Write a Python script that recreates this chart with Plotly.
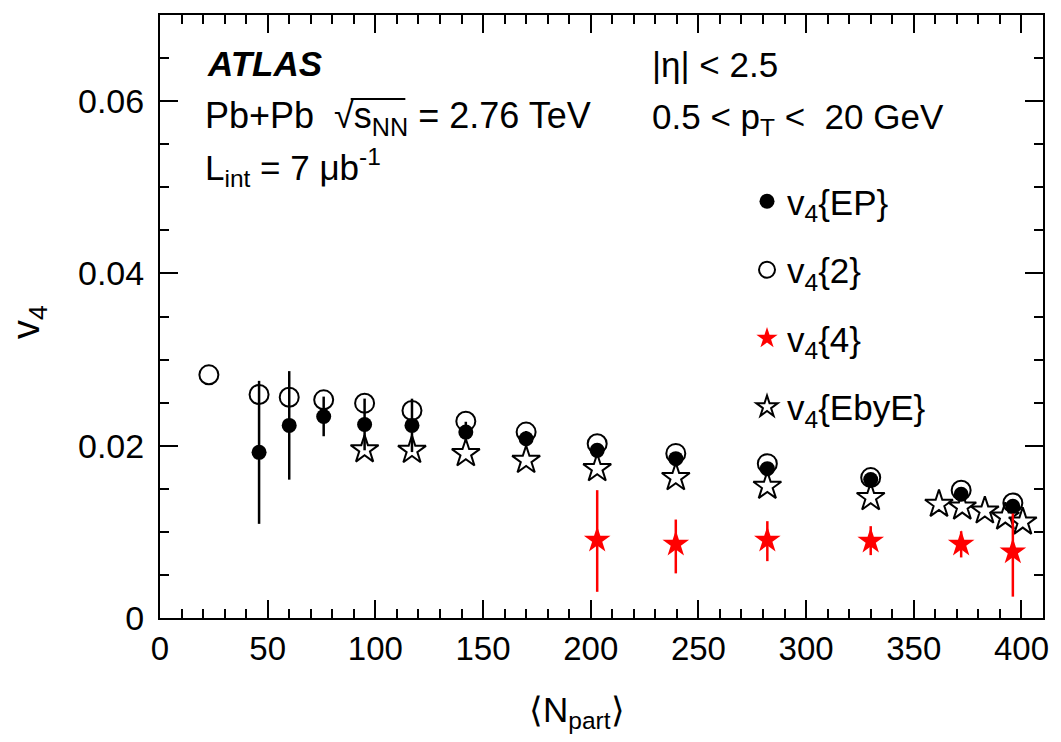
import plotly.graph_objects as go

# ---------------- data ----------------
npart_ep = [46, 60, 76, 95, 117, 142, 170, 203, 239.5, 282, 330, 372, 396]
v4_ep = [0.01923, 0.02236, 0.0234, 0.02247, 0.02236, 0.02158, 0.02081, 0.01946, 0.0185, 0.01734, 0.01607, 0.01436, 0.01297]
v4_ep_err = [0.0083, 0.0063, 0.0023, 0.0030, 0.0031, 0.0012, 0.0009, 0.0006, 0.0005, 0.0005, 0.0005, 0.0005, 0.0005]

npart_2 = [22.7, 46, 60, 76, 95, 117, 142, 170, 203, 239.5, 282, 330, 372, 396]
v4_2 = [0.02823, 0.02595, 0.02563, 0.02533, 0.02494, 0.02409, 0.02285, 0.02158, 0.02024, 0.01911, 0.01792, 0.0163, 0.01483, 0.01336]

npart_4 = [203, 239.5, 282, 330, 372, 396]
v4_4 = [0.00904, 0.00857, 0.00904, 0.00892, 0.00857, 0.00768]
v4_4_err_up = [0.0058, 0.00286, 0.0022, 0.00174, 0.0015, 0.00445]
v4_4_err_dn = [0.0060, 0.00339, 0.00244, 0.00162, 0.00154, 0.0052]

npart_ebye = [95, 117, 142, 170, 203, 239.5, 282, 330, 361.7, 372.5, 383, 392.5, 400.6]
v4_ebye = [0.01954, 0.01946, 0.01908, 0.0183, 0.01734, 0.0163, 0.01529, 0.01398, 0.0132, 0.01289, 0.01243, 0.01173, 0.01115]

x_ticks = [0, 50, 100, 150, 200, 250, 300, 350, 400]
y_ticks = [0, 0.02, 0.04, 0.06]
y_ticktext = ["0", "0.02", "0.04", "0.06"]

FONT = "Liberation Sans, Arial, Helvetica, sans-serif"

fig = go.Figure()

fig.add_trace(go.Scatter(
    x=npart_ebye, y=v4_ebye, mode="markers", name="v<sub>4</sub>{EbyE}",
    legendgroup="d", legendrank=4,
    marker=dict(symbol="star-open", size=21, color="black", line=dict(width=2, color="black")),
))
fig.add_trace(go.Scatter(
    x=npart_2, y=v4_2, mode="markers", name="v<sub>4</sub>{2}",
    legendgroup="b", legendrank=2,
    marker=dict(symbol="circle-open", size=19, color="black", line=dict(width=2, color="black")),
))
fig.add_trace(go.Scatter(
    x=npart_ep, y=v4_ep, mode="markers", name="v<sub>4</sub>{EP}",
    legendgroup="a", legendrank=1,
    error_y=dict(type="data", array=v4_ep_err, thickness=2.5, width=0, color="black"),
    marker=dict(symbol="circle", size=15, color="black"),
))
fig.add_trace(go.Scatter(
    x=npart_4, y=v4_4, mode="markers", name="v<sub>4</sub>{4}",
    legendgroup="c", legendrank=3,
    error_y=dict(type="data", symmetric=False, array=v4_4_err_up, arrayminus=v4_4_err_dn,
                 thickness=2.5, width=0, color="#ff0000"),
    marker=dict(symbol="star", size=20, color="#ff0000"),
))

axis_common = dict(
    showline=True, linewidth=2, linecolor="black", mirror="allticks",
    ticks="inside", ticklen=18, tickwidth=2, tickcolor="black",
    showgrid=False, zeroline=False,
)

fig.update_xaxes(
    range=[0, 410], tickvals=x_ticks,
    tickfont=dict(family=FONT, size=33, color="black"),
    minor=dict(dtick=10, ticks="inside", ticklen=9, tickwidth=2, tickcolor="black", showgrid=False),
    **axis_common,
)
fig.update_yaxes(
    range=[0, 0.07], tickvals=y_ticks, ticktext=y_ticktext,
    tickfont=dict(family=FONT, size=34, color="black"),
    ticklabelstandoff=7,
    minor=dict(dtick=0.005, ticks="inside", ticklen=9, tickwidth=2, tickcolor="black", showgrid=False),
    **axis_common,
)

def px_x(px):
    return (px - 160) / 889.0

def px_y(py):
    return (618 - py) / 603.0

annots = [
    dict(text="<b><i>ATLAS</i></b>", x=px_x(205), y=px_y(64), size=35),
    dict(text="Pb+Pb  √s<sub>NN</sub> = 2.76 TeV", x=px_x(203), y=px_y(118), size=36),
    dict(text="L<sub>int</sub> = 7 μb<sup>-1</sup>", x=px_x(203), y=px_y(168), size=35),
    dict(text="|η| < 2.5", x=px_x(653), y=px_y(65), size=35),
    dict(text="0.5 < p<sub>T</sub> <  20 GeV", x=px_x(653), y=px_y(119), size=35),
]
for a in annots:
    fig.add_annotation(
        text=a["text"], xref="paper", yref="paper", x=a["x"], y=a["y"],
        xanchor="left", yanchor="middle", showarrow=False,
        font=dict(family=FONT, size=a["size"], color="black"),
    )

# overline of the square root
fig.add_shape(type="line", xref="paper", yref="paper",
              x0=px_x(352), x1=px_x(407), y0=px_y(99), y1=px_y(99),
              line=dict(color="black", width=2))

fig.add_annotation(
    text="v<sub>4</sub>", xref="paper", yref="paper", x=px_x(28), y=px_y(322),
    xanchor="center", yanchor="middle", textangle=-90, showarrow=False,
    font=dict(family=FONT, size=38, color="black"),
)
fig.add_annotation(
    text="⟨N<sub>part</sub>⟩", xref="paper", yref="paper", x=px_x(580), y=px_y(712),
    xanchor="center", yanchor="middle", showarrow=False,
    font=dict(family=FONT, size=35, color="black"),
)

fig.update_layout(
    width=1061, height=742,
    margin=dict(l=160, r=12, t=15, b=124),
    paper_bgcolor="white", plot_bgcolor="white",
    showlegend=True,
    legend=dict(
        x=px_x(751), y=px_y(172), xanchor="left", yanchor="top",
        bgcolor="rgba(0,0,0,0)", borderwidth=0,
        font=dict(family=FONT, size=35, color="black"),
        tracegroupgap=20, traceorder="grouped",
        itemsizing="trace",
    ),
    font=dict(family=FONT, color="black"),
)

fig.write_html("out.html")
